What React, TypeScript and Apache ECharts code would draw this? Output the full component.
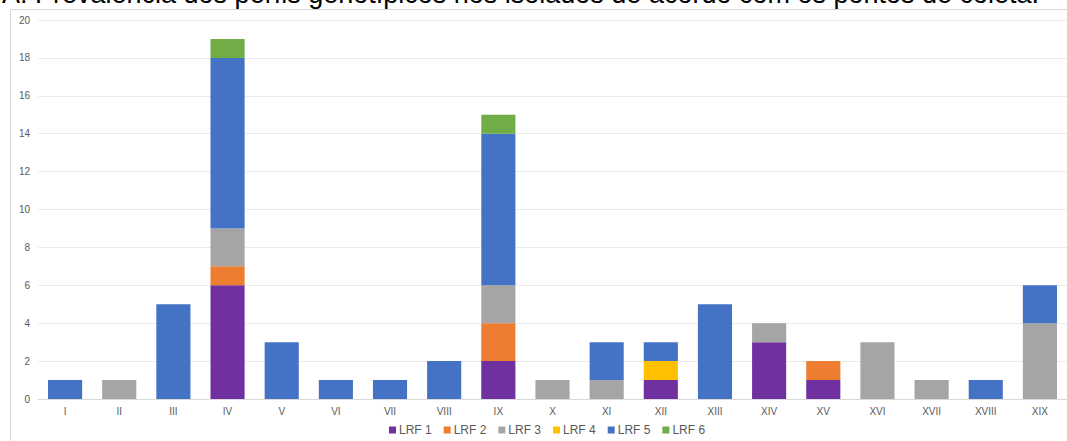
import React, { useEffect, useRef } from "react";
import * as echarts from "echarts";

const categories = ["I", "II", "III", "IV", "V", "VI", "VII", "VIII", "IX", "X", "XI", "XII", "XIII", "XIV", "XV", "XVI", "XVII", "XVIII", "XIX"];
const lrf1 = [0, 0, 0, 6, 0, 0, 0, 0, 2, 0, 0, 1, 0, 3, 1, 0, 0, 0, 0];
const lrf2 = [0, 0, 0, 1, 0, 0, 0, 0, 2, 0, 0, 0, 0, 0, 1, 0, 0, 0, 0];
const lrf3 = [0, 1, 0, 2, 0, 0, 0, 0, 2, 1, 1, 0, 0, 1, 0, 3, 1, 0, 4];
const lrf4 = [0, 0, 0, 0, 0, 0, 0, 0, 0, 0, 0, 1, 0, 0, 0, 0, 0, 0, 0];
const lrf5 = [1, 0, 5, 9, 3, 1, 1, 2, 8, 0, 2, 1, 5, 0, 0, 0, 0, 1, 2];
const lrf6 = [0, 0, 0, 1, 0, 0, 0, 0, 1, 0, 0, 0, 0, 0, 0, 0, 0, 0, 0];
const seriesNames = ["LRF 1", "LRF 2", "LRF 3", "LRF 4", "LRF 5", "LRF 6"];
const seriesColors = ["#7030A0", "#ED7D31", "#A5A5A5", "#FFC000", "#4472C4", "#70AD47"];
const title = "A: Prevalência dos perfis genotípicos nos isolados de acordo com os pontos de coleta.";

export default function App() {
  const ref = useRef<HTMLDivElement>(null);
  useEffect(() => {
    if (!ref.current) return;
    const chart = echarts.init(ref.current, null, { renderer: "svg" });
    const all = [lrf1, lrf2, lrf3, lrf4, lrf5, lrf6];
    chart.setOption({
      animation: false,
      backgroundColor: "#ffffff",
      textStyle: { fontFamily: "Liberation Sans, Arial, sans-serif" },
      graphic: [
        {
          type: "rect",
          shape: { x: 10.5, y: 9.5, width: 1200, height: 600 },
          style: { fill: "none", stroke: "#D9D9D9", lineWidth: 1 },
          silent: true,
        },
        {
          type: "text",
          x: 2,
          y: 7,
          style: {
            text: title,
            fontSize: 27,
            fontFamily: "Liberation Sans, Arial, sans-serif",
            fill: "#000000",
            verticalAlign: "bottom",
          },
        },
      ],
      grid: { left: 38, right: 0, top: 20, bottom: 42, containLabel: false },
      legend: {
        data: seriesNames,
        left: 384,
        bottom: 0,
        itemWidth: 7,
        itemHeight: 7,
        itemGap: 12,
        icon: "rect",
        textStyle: { color: "#595959", fontSize: 12, padding: [0, 0, 0, -2] },
      },
      xAxis: {
        type: "category",
        data: categories,
        axisLine: { lineStyle: { color: "#D9D9D9" } },
        axisTick: { show: false },
        axisLabel: { color: "#595959", fontSize: 10, margin: 7 },
      },
      yAxis: {
        type: "value",
        min: 0,
        max: 20,
        interval: 2,
        axisLine: { show: false },
        axisTick: { show: false },
        axisLabel: { color: "#595959", fontSize: 10, margin: 8 },
        splitLine: { lineStyle: { color: "#EBEBEB" } },
      },
      series: seriesNames.map((name, i) => ({
        name,
        type: "bar",
        stack: "total",
        barWidth: "63%",
        data: all[i].map((v) => (v === 0 ? null : v)),
        itemStyle: { color: seriesColors[i] },
      })),
    });
    return () => chart.dispose();
  }, []);
  return <div ref={ref} style={{ position: "absolute", left: 0, top: 0, width: 1067, height: 441 }} />;
}
